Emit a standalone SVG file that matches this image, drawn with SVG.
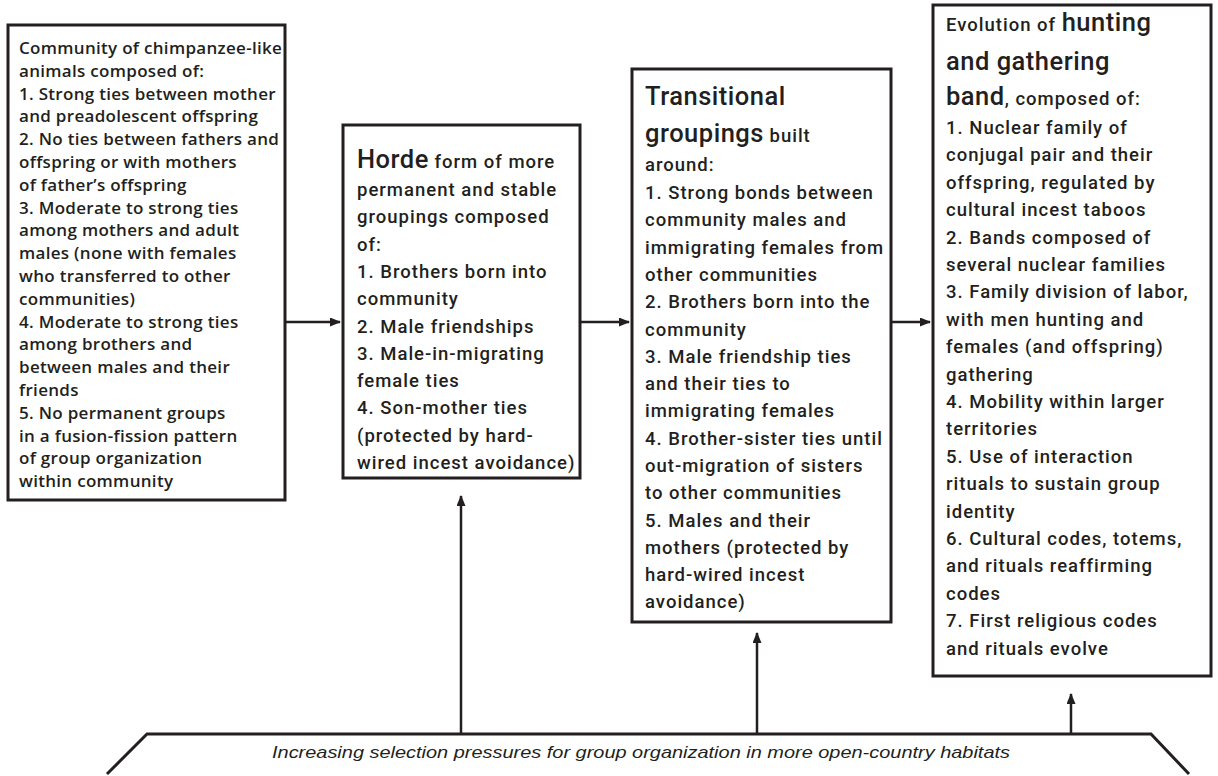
<svg xmlns="http://www.w3.org/2000/svg" width="1218" height="776" viewBox="0 0 1218 776">
  <defs>
    <style>
      .box { fill: #ffffff; stroke: #231f20; stroke-width: 3; }
      .t1 { font-family: "Open Sans", "Liberation Sans", sans-serif; font-weight: 600; font-size: 17px; letter-spacing: 0.3px; fill: #231f20; }
      .t2 { font-family: Roboto, "Liberation Sans", sans-serif; font-weight: 500; font-size: 18.5px; letter-spacing: 1px; fill: #231f20; }
      .big { font-size: 25.5px; letter-spacing: 0.5px; }
      .link { fill: none; stroke: #231f20; stroke-width: 2.5; }
      .bar { fill: none; stroke: #231f20; stroke-width: 3; }
      .note { font-family: "Liberation Sans", sans-serif; font-style: italic; font-size: 17px; fill: #231f20; }
    </style>
    <marker id="arrow" markerUnits="userSpaceOnUse" markerWidth="11" markerHeight="9" refX="10" refY="4.5" orient="auto">
      <path d="M0,0 L11,4.5 L0,9 z" fill="#231f20"/>
    </marker>
  </defs>

  <rect width="1218" height="776" fill="#ffffff"/>

  <!-- Stage 1: chimpanzee-like community -->
  <g id="community">
    <rect class="box" x="8" y="25" width="277" height="475"/>
    <text class="t1">
      <tspan x="19" y="54">Community of chimpanzee-like</tspan>
      <tspan x="19" y="77">animals composed of:</tspan>
      <tspan x="19" y="100">1.  Strong ties between mother</tspan>
      <tspan x="19" y="122">and preadolescent offspring</tspan>
      <tspan x="19" y="145">2. No ties between fathers and</tspan>
      <tspan x="19" y="168">offspring or with mothers</tspan>
      <tspan x="19" y="191">of father’s offspring</tspan>
      <tspan x="19" y="214">3. Moderate to strong ties</tspan>
      <tspan x="19" y="236">among mothers and adult</tspan>
      <tspan x="19" y="259">males (none with females</tspan>
      <tspan x="19" y="282">who transferred to other</tspan>
      <tspan x="19" y="305">communities)</tspan>
      <tspan x="19" y="328">4. Moderate to strong ties</tspan>
      <tspan x="19" y="350">among brothers and</tspan>
      <tspan x="19" y="373">between males and their</tspan>
      <tspan x="19" y="396">friends</tspan>
      <tspan x="19" y="419">5. No permanent groups</tspan>
      <tspan x="19" y="442">in a fusion-fission pattern</tspan>
      <tspan x="19" y="464">of group organization</tspan>
      <tspan x="19" y="487">within community</tspan>
    </text>
  </g>

  <!-- Stage 2: horde -->
  <g id="horde">
    <rect class="box" x="343" y="125" width="237" height="353"/>
    <text class="t2">
      <tspan x="357" y="168" class="big">Horde</tspan><tspan> form of more</tspan>
      <tspan x="357" y="196">permanent and stable</tspan>
      <tspan x="357" y="223">groupings composed</tspan>
      <tspan x="357" y="251">of:</tspan>
      <tspan x="357" y="278">1. Brothers born into</tspan>
      <tspan x="357" y="305">community</tspan>
      <tspan x="357" y="333">2. Male friendships</tspan>
      <tspan x="357" y="360">3. Male-in-migrating</tspan>
      <tspan x="357" y="387">female ties</tspan>
      <tspan x="357" y="414">4. Son-mother ties</tspan>
      <tspan x="357" y="442">(protected by hard-</tspan>
      <tspan x="357" y="469">wired incest avoidance)</tspan>
    </text>
  </g>

  <!-- Stage 3: transitional groupings -->
  <g id="transitional">
    <rect class="box" x="632" y="69" width="259" height="553"/>
    <text class="t2">
      <tspan x="645" y="105" class="big">Transitional</tspan>
      <tspan x="645" y="142" class="big">groupings</tspan><tspan> built</tspan>
      <tspan x="645" y="171">around:</tspan>
      <tspan x="645" y="199">1. Strong bonds between</tspan>
      <tspan x="645" y="226">community males and</tspan>
      <tspan x="645" y="254">immigrating females from</tspan>
      <tspan x="645" y="281">other communities</tspan>
      <tspan x="645" y="308">2. Brothers born into the</tspan>
      <tspan x="645" y="336">community</tspan>
      <tspan x="645" y="363">3. Male friendship ties</tspan>
      <tspan x="645" y="390">and their ties to</tspan>
      <tspan x="645" y="417">immigrating females</tspan>
      <tspan x="645" y="445">4. Brother-sister ties until</tspan>
      <tspan x="645" y="472">out-migration of sisters</tspan>
      <tspan x="645" y="499">to other communities</tspan>
      <tspan x="645" y="527">5. Males and their</tspan>
      <tspan x="645" y="554">mothers (protected by</tspan>
      <tspan x="645" y="581">hard-wired incest</tspan>
      <tspan x="645" y="608">avoidance)</tspan>
    </text>
  </g>

  <!-- Stage 4: hunting and gathering band -->
  <g id="band">
    <rect class="box" x="933" y="5" width="278" height="671"/>
    <text class="t2">
      <tspan x="946" y="31">Evolution of </tspan><tspan class="big">hunting</tspan>
      <tspan x="946" y="70" class="big">and gathering</tspan>
      <tspan x="946" y="105" class="big">band</tspan><tspan>, composed of:</tspan>
      <tspan x="946" y="134">1. Nuclear family of</tspan>
      <tspan x="946" y="161">conjugal pair and their</tspan>
      <tspan x="946" y="189">offspring, regulated by</tspan>
      <tspan x="946" y="216">cultural incest taboos</tspan>
      <tspan x="946" y="244">2. Bands composed of</tspan>
      <tspan x="946" y="271">several nuclear families</tspan>
      <tspan x="946" y="298">3. Family division of labor,</tspan>
      <tspan x="946" y="326">with men hunting and</tspan>
      <tspan x="946" y="353">females (and offspring)</tspan>
      <tspan x="946" y="381">gathering</tspan>
      <tspan x="946" y="408">4. Mobility within larger</tspan>
      <tspan x="946" y="435">territories</tspan>
      <tspan x="946" y="463">5. Use of interaction</tspan>
      <tspan x="946" y="490">rituals to sustain group</tspan>
      <tspan x="946" y="518">identity</tspan>
      <tspan x="946" y="545">6. Cultural codes, totems,</tspan>
      <tspan x="946" y="572">and rituals reaffirming</tspan>
      <tspan x="946" y="600">codes</tspan>
      <tspan x="946" y="627">7. First religious codes</tspan>
      <tspan x="946" y="655">and rituals evolve</tspan>
    </text>
  </g>

  <!-- Selection-pressure base -->
  <g id="pressures">
    <polyline class="bar" points="107,774 147,734 1151,734 1189,774"/>
    <text class="note" x="641" y="758" text-anchor="middle" textLength="738" lengthAdjust="spacingAndGlyphs">Increasing selection pressures for group organization in more open-country habitats</text>
  </g>

  <!-- Connectors -->
  <g id="connectors">
    <line class="link" x1="285" y1="322" x2="340" y2="322" marker-end="url(#arrow)"/>
    <line class="link" x1="580" y1="322" x2="629" y2="322" marker-end="url(#arrow)"/>
    <line class="link" x1="891" y1="322" x2="930" y2="322" marker-end="url(#arrow)"/>
    <line class="link" x1="461" y1="734" x2="461" y2="496" marker-end="url(#arrow)"/>
    <line class="link" x1="757" y1="734" x2="757" y2="633" marker-end="url(#arrow)"/>
    <line class="link" x1="1071" y1="734" x2="1071" y2="694" marker-end="url(#arrow)"/>
  </g>
</svg>
